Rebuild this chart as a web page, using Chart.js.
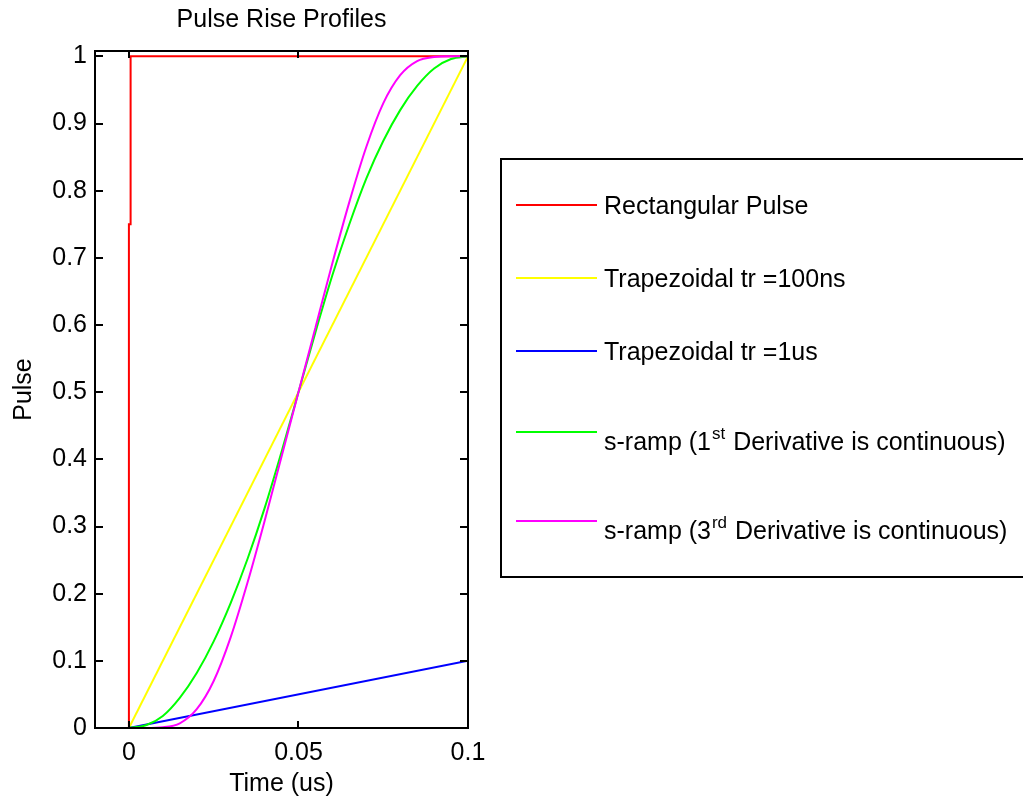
<!DOCTYPE html>
<html>
<head>
<meta charset="utf-8">
<title>Pulse Rise Profiles</title>
<script src="https://cdn.jsdelivr.net/npm/chart.js@4.4.1/dist/chart.umd.min.js"></script>
<style>
    html, body { margin: 0; padding: 0; background: #fff; }
    #wrap { width: 1023px; height: 800px; }
</style>
</head>
<body>
<div id="wrap"><canvas id="pulseChart" width="1023" height="800"></canvas></div>
<script>
// tick marks
const xTicks = [0, 0.05, 0.1];
const yTicks = [0, 0.1, 0.2, 0.3, 0.4, 0.5, 0.6, 0.7, 0.8, 0.9, 1];

// legend names (^{..} = superscript, like matlab)
const seriesNames = [
    "Rectangular Pulse",
    "Trapezoidal tr =100ns",
    "Trapezoidal tr =1us",
    "s-ramp (1^{st} Derivative is continuous)",
    "s-ramp (3^{rd} Derivative is continuous)"
];
const seriesColors = ["#ff0000", "#ffff00", "#0000ff", "#00ff00", "#ff00ff"];

// rectangular pulse
const tRect = [0, 0, 0.0005, 0.0005, 0.1];
const vRect = [0, 0.75, 0.75, 1, 1];

// trapezoids
const tTrap = [0, 0.1];
const vTrap100ns = [0, 1];
const vTrap1us = [0, 0.1];

// s-ramps
const tSramp = [0, 0.005, 0.01, 0.015, 0.02, 0.025, 0.03, 0.035, 0.04, 0.045, 0.05,
                0.055, 0.06, 0.065, 0.07, 0.075, 0.08, 0.085, 0.09, 0.095, 0.1];
const vSramp1 = [0, 0.004, 0.018, 0.045, 0.082, 0.129, 0.186, 0.252, 0.327, 0.411, 0.5,
                 0.589, 0.674, 0.75, 0.818, 0.874, 0.92, 0.956, 0.982, 0.996, 1];
const vSramp3 = [0, 0, 0.001, 0.007, 0.028, 0.07, 0.135, 0.217, 0.308, 0.404, 0.5,
                 0.596, 0.692, 0.783, 0.865, 0.93, 0.972, 0.993, 0.999, 1, 1];

const FONT = "'Liberation Sans', Arial, Helvetica, sans-serif";

function toPoints(t, v) {
    return t.map((x, i) => ({ x: x, y: v[i] }));
}

function splitSup(label) {
    const parts = [];
    const re = /\^\{([^}]*)\}/g;
    let last = 0, m;
    while ((m = re.exec(label)) !== null) {
        if (m.index > last) parts.push({ text: label.slice(last, m.index), sup: false });
        parts.push({ text: m[1], sup: true });
        last = re.lastIndex;
    }
    if (last < label.length) parts.push({ text: label.slice(last), sup: false });
    return parts;
}

// box around the axes + inward ticks on all four sides
const axesBox = {
    id: "axesBox",
    afterDatasetsDraw(chart) {
        const { ctx, chartArea: a } = chart;
        const sx = chart.scales.x, sy = chart.scales.y;
        ctx.save();
        ctx.strokeStyle = "#000";
        ctx.lineWidth = 2;
        ctx.beginPath();
        xTicks.forEach(v => {
            const px = Math.round(sx.getPixelForValue(v));
            ctx.moveTo(px, a.bottom); ctx.lineTo(px, a.bottom - 7);
            ctx.moveTo(px, a.top); ctx.lineTo(px, a.top + 7);
        });
        yTicks.forEach(v => {
            const py = Math.round(sy.getPixelForValue(v));
            ctx.moveTo(a.left, py); ctx.lineTo(a.left + 8, py);
            ctx.moveTo(a.right, py); ctx.lineTo(a.right - 8, py);
        });
        ctx.stroke();
        ctx.strokeRect(a.left, a.top, a.right - a.left, a.bottom - a.top);
        ctx.restore();
    }
};

// legend box to the right of the axes
const sideLegend = {
    id: "sideLegend",
    afterDraw(chart) {
        const ctx = chart.ctx;
        const ds = chart.data.datasets;
        ctx.save();
        ctx.strokeStyle = "#000";
        ctx.lineWidth = 2;
        ctx.strokeRect(501, 159, 540, 418);

        let y = 205;
        let prevExtra = 0;
        ds.forEach((d, i) => {
            const parts = splitSup(d.label);
            const hasSup = parts.some(p => p.sup);
            const extra = hasSup ? 16 : 0;
            if (i > 0) y += 73 + prevExtra / 2 + extra / 2;
            prevExtra = extra;

            ctx.strokeStyle = d.borderColor;
            ctx.lineWidth = 2;
            ctx.beginPath();
            ctx.moveTo(516, y);
            ctx.lineTo(597, y);
            ctx.stroke();

            const base = y + (hasSup ? 18 : 8.5);
            let x = 604;
            ctx.fillStyle = "#000";
            ctx.textBaseline = "alphabetic";
            ctx.textAlign = "left";
            parts.forEach(p => {
                if (p.sup) {
                    ctx.font = "17px " + FONT;
                    ctx.fillText(p.text, x + 1, base - 11);
                    x += ctx.measureText(p.text).width + 2;
                } else {
                    ctx.font = "25px " + FONT;
                    ctx.fillText(p.text, x, base);
                    x += ctx.measureText(p.text).width;
                }
            });
        });
        ctx.restore();
    }
};

const datasets = [
    { t: tRect, v: vRect },
    { t: tTrap, v: vTrap100ns },
    { t: tTrap, v: vTrap1us },
    { t: tSramp, v: vSramp1 },
    { t: tSramp, v: vSramp3 }
].map((s, i) => ({
    label: seriesNames[i],
    data: toPoints(s.t, s.v),
    borderColor: seriesColors[i],
    backgroundColor: seriesColors[i],
    borderWidth: 2,
    pointRadius: 0,
    fill: false,
    cubicInterpolationMode: i >= 3 ? "monotone" : "default",
    order: 5 - i
}));

Chart.defaults.font.family = FONT;
Chart.defaults.color = "#000";

new Chart(document.getElementById("pulseChart"), {
    type: "line",
    data: { datasets: datasets },
    options: {
        responsive: false,
        animation: false,
        events: [],
        layout: { padding: { left: 0, right: 555, top: 0, bottom: 0 } },
        plugins: {
            legend: { display: false },
            tooltip: { enabled: false },
            title: {
                display: true,
                text: "Pulse Rise Profiles",
                fullSize: false,
                color: "#000",
                font: { size: 25, weight: "normal", lineHeight: 1.2 },
                padding: { top: 5, bottom: 16 }
            }
        },
        scales: {
            x: {
                type: "linear",
                min: -0.01,
                max: 0.1,
                grid: { display: false, drawTicks: false },
                border: { display: false },
                afterBuildTicks: axis => { axis.ticks = xTicks.map(v => ({ value: v })); },
                afterFit: axis => { axis.height = 72; },
                ticks: {
                    padding: 10,
                    font: { size: 25 },
                    color: "#000",
                    maxRotation: 0,
                    autoSkip: false,
                    callback: v => String(v)
                },
                title: {
                    display: true,
                    text: "Time (us)",
                    color: "#000",
                    font: { size: 25 },
                    padding: { top: 0, bottom: 1 }
                }
            },
            y: {
                type: "linear",
                min: 0,
                max: 1.008,
                grid: { display: false, drawTicks: false },
                border: { display: false },
                afterBuildTicks: axis => { axis.ticks = yTicks.map(v => ({ value: v })); },
                afterFit: axis => { axis.width = 95; },
                ticks: {
                    padding: 8,
                    font: { size: 25 },
                    color: "#000",
                    autoSkip: false,
                    callback: v => String(v)
                },
                title: {
                    display: true,
                    text: "Pulse",
                    color: "#000",
                    font: { size: 25 },
                    padding: { top: 9, bottom: 0 }
                }
            }
        }
    },
    plugins: [axesBox, sideLegend]
});
</script>
</body>
</html>
